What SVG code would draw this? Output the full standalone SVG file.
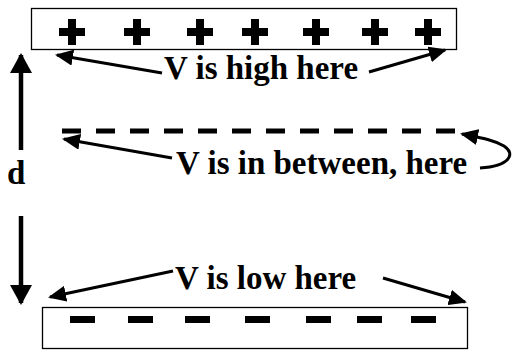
<svg xmlns="http://www.w3.org/2000/svg" width="514" height="350" viewBox="0 0 514 350">
<style>
.plate{fill:#fff;stroke:#000;stroke-width:1.3}
.lbl{font-family:"Liberation Serif","Times New Roman",serif;font-weight:bold;font-size:33px;fill:#000}
.arr{fill:none;stroke:#000;stroke-width:3}
.big{fill:none;stroke:#000;stroke-width:4.5}
.sign{fill:#000}
</style>
<defs>
<marker id="ah" markerUnits="userSpaceOnUse" viewBox="0 0 18 16" markerWidth="18" markerHeight="16" refX="16" refY="8" orient="auto">
<path d="M0,0 L18,8 L0,16 Z" fill="#000"/>
</marker>
<marker id="bh" markerUnits="userSpaceOnUse" viewBox="0 0 20 22" markerWidth="20" markerHeight="22" refX="18" refY="11" orient="auto">
<path d="M0,0 L20,11 L0,22 Z" fill="#000"/>
</marker>
</defs>
<g id="top-plate">
<rect class="plate" x="31.5" y="8.5" width="425" height="41"/>
<g class="sign">
<rect x="59" y="28" width="26" height="8"/><rect x="68" y="19" width="8" height="26"/>
<rect x="124" y="28" width="26" height="8"/><rect x="133" y="19" width="8" height="26"/>
<rect x="187" y="28" width="26" height="8"/><rect x="196" y="19" width="8" height="26"/>
<rect x="242" y="28" width="26" height="8"/><rect x="251" y="19" width="8" height="26"/>
<rect x="303" y="28" width="26" height="8"/><rect x="312" y="19" width="8" height="26"/>
<rect x="362" y="28" width="26" height="8"/><rect x="371" y="19" width="8" height="26"/>
<rect x="415" y="28" width="26" height="8"/><rect x="424" y="19" width="8" height="26"/>
</g>
</g>
<g id="label-high"><text class="lbl" x="164" y="79">V is high here</text></g>
<g id="middle-line">
<line x1="62" y1="131" x2="455" y2="131" stroke="#000" stroke-width="5" stroke-dasharray="19 15"/>
</g>
<g id="label-between"><text class="lbl" x="176" y="174">V is in between, here</text></g>
<g id="label-d"><text class="lbl" x="7" y="184">d</text></g>
<g id="label-low"><text class="lbl" x="175" y="289">V is low here</text></g>
<g id="bottom-plate">
<rect class="plate" x="42.5" y="307.5" width="425" height="41"/>
<g class="sign">
<rect x="70" y="316" width="25" height="7"/>
<rect x="128" y="316" width="25" height="7"/>
<rect x="185" y="316" width="25" height="7"/>
<rect x="245" y="316" width="25" height="7"/>
<rect x="306" y="316" width="25" height="7"/>
<rect x="357" y="316" width="25" height="7"/>
<rect x="411" y="316" width="25" height="7"/>
</g>
</g>
<g id="connectors">
<line class="big" x1="21" y1="150" x2="21" y2="55" marker-end="url(#bh)"/>
<line class="big" x1="21" y1="216" x2="21" y2="303" marker-end="url(#bh)"/>
<line class="arr" x1="162" y1="73" x2="57" y2="55" marker-end="url(#ah)"/>
<line class="arr" x1="369" y1="72" x2="445" y2="50" marker-end="url(#ah)"/>
<line class="arr" x1="172" y1="158" x2="64" y2="139" marker-end="url(#ah)"/>
<path class="arr" d="M480,168 C510,166 516,154 504,146 C494,140 482,138 462,134" marker-end="url(#ah)"/>
<line class="arr" x1="173" y1="271" x2="50" y2="297" marker-end="url(#ah)"/>
<line class="arr" x1="383" y1="278" x2="465" y2="302" marker-end="url(#ah)"/>
</g>
</svg>
